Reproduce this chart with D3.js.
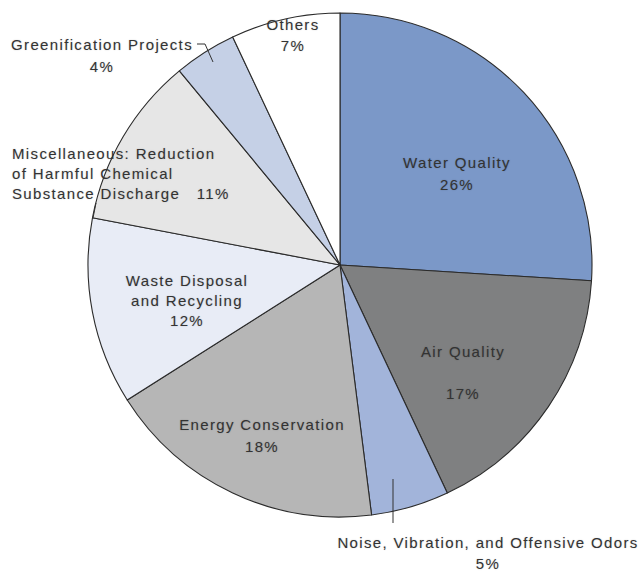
<!DOCTYPE html>
<html><head><meta charset="utf-8">
<script src="https://cdn.jsdelivr.net/npm/d3@7"></script>
<style>
body{margin:0;background:#fff;}
text{font-family:"Liberation Sans",Arial,sans-serif;font-size:15px;letter-spacing:1.35px;fill:#333;text-shadow:0 0 1.5px rgba(0,0,0,0.22);white-space:pre;}
</style></head>
<body><svg id="c" width="640" height="572"></svg>
<script>
const categories = ["Water Quality","Air Quality","Noise, Vibration, and Offensive Odors","Energy Conservation","Waste Disposal and Recycling","Miscellaneous: Reduction of Harmful Chemical Substance Discharge","Greenification Projects","Others"];
const values = [26,17,5,18,12,11,4,7];
const colors = ["#7b98c8","#7f8081","#a2b4da","#b6b6b6","#e8ecf6","#e6e6e6","#c5d0e6","#ffffff"];
// label lines (text)
const labelLines = [
  ["Water Quality","26%"],
  ["Air Quality","","17%"],
  ["Noise, Vibration, and Offensive Odors","5%"],
  ["Energy Conservation","18%"],
  ["Waste Disposal","and Recycling","12%"],
  ["Miscellaneous: Reduction","of Harmful Chemical","Substance Discharge   11%"],
  ["Greenification Projects","4%"],
  ["Others","7%"]
];
// layout: label anchors relative to pie center
const labelPos = [[117,-97],[123,92],[148,283],[-78,165],[-153,21],[-328,-106],[-238,-215],[-47,-235]];
const labelGap = [22,21,21,22,20,20,22,21];
const labelAnchor = ["middle","middle","middle","middle","middle","start","middle","middle"];
const leaders = [
  [[53,214],[53,258]],
  [[-143,-221],[-135,-221],[-127,-203]],
  [[-244,-62],[-247,-47]]
];

const W=640,H=572,cx=340,cy=265,R=252;
const svg=d3.select("#c");
const g=svg.append("g").attr("transform",`translate(${cx},${cy})`);
const pie=d3.pie().sort(null).value(d=>d)(values);
const arc=d3.arc().innerRadius(0).outerRadius(R);
g.selectAll("path.s").data(pie).join("path").attr("class","s")
 .attr("d",arc).attr("fill",(d,i)=>colors[i]).attr("stroke","#2b2b2b").attr("stroke-width",1.1).attr("stroke-linejoin","round");

const line=d3.line();
g.selectAll("path.ld").data(leaders).join("path").attr("class","ld")
 .attr("d",d=>line(d)).attr("stroke","#333").attr("stroke-width",1).attr("fill","none");

const lab=g.selectAll("g.l").data(labelLines).join("g").attr("class","l")
 .attr("transform",(d,i)=>`translate(${labelPos[i][0]},${labelPos[i][1]})`);
lab.each(function(lines,i){
  const t=d3.select(this).append("text").attr("text-anchor",labelAnchor[i]);
  lines.forEach((s,j)=>t.append("tspan").attr("x",0).attr("y",j*labelGap[i]).text(s));
});
</script></body></html>
